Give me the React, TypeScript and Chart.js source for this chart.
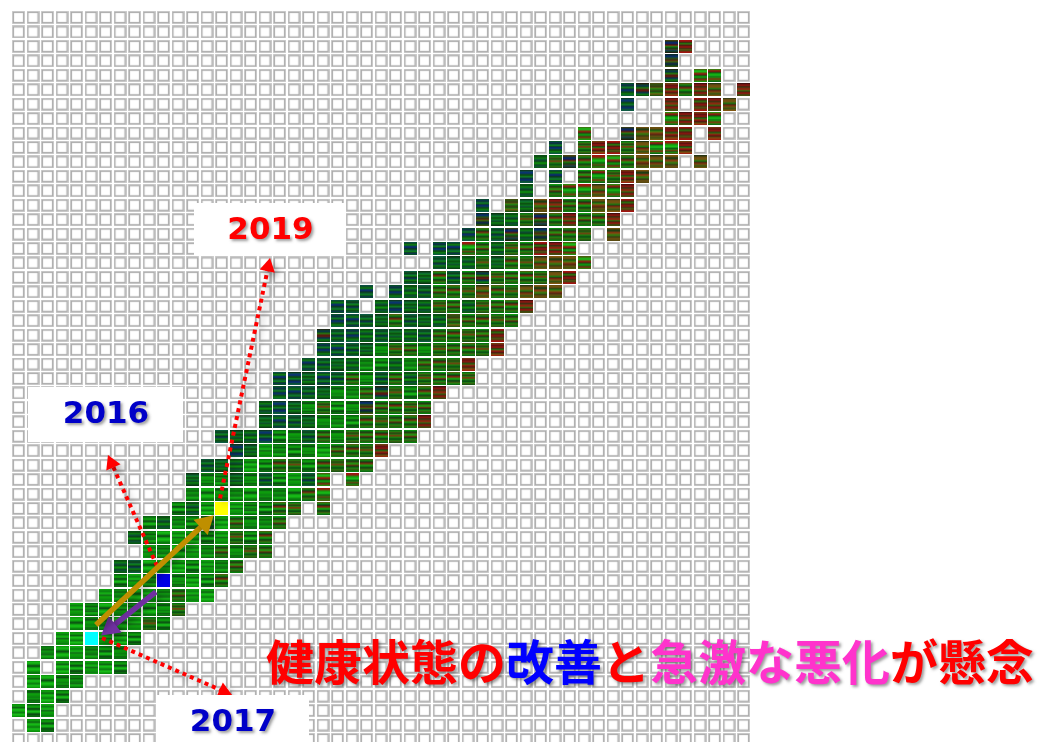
import React, { useEffect, useRef } from "react";
import { Chart, registerables } from "chart.js";

Chart.register(...registerables);

// --- Data ----------------------------------------------------------------
const GRID_SIZE = 51;
// first occupied column of each row with cells (row number -> [start column, classes]); "." = empty cell
const rowNumbers = [2, 3, 4, 5, 6, 7, 8, 9, 10, 11, 12, 13, 14, 15, 16, 17, 18, 19, 20, 21, 22, 23, 24, 25, 26, 27, 28, 29, 30, 31, 32, 33, 34, 35, 36, 37, 38, 39, 40, 41, 42, 43, 44, 45, 46, 47, 48, 49];
const rowStarts = [45, 45, 45, 42, 42, 45, 39, 37, 36, 35, 35, 32, 32, 31, 27, 29, 27, 24, 22, 22, 21, 21, 20, 18, 18, 17, 17, 14, 15, 13, 12, 12, 11, 9, 8, 9, 7, 7, 6, 4, 4, 3, 2, 1, 1, 1, 0, 1];
const rowCells = [
  "nr", "n", "n.kk", "bnormry.r", "b..r.rry", "krrk", "k..nyyrr.r", "b.mrrmykkr",
  "tmnmkkmyyy.y", "b.b.mkmry", "t.mkkykr", "b.otyrmmyyr", "nttmnmrmmr", "bmtntnmmm.y",
  "b.bbkmtmmrrk", "tttmtmmyyyk", "ttmtmnmmmmyr", "b.bttmmmymmyyy", "bt.tbttmmtmmmr",
  "bbttmtttommmm", "ntbtttttmmmmr", "bbttdmmdmmmmr", "btttddtdmmmr", "bbtbtmdtmtmmmm",
  "bbttddmnmdmr", "tbtdmddnmmmm", "tbttdddmmmmr", "tttbddtmdmmmmm", "btgdddgmmmr",
  "tttgdmmdmmmm", "tddtdtdgtk.k", "dgddgddgmk", "dtgYgddmm.m", "dtddtgmddm",
  "tdgggdgmdm", "gdggdmdmm", "ttgggdgdm", "dgdBdgdm", "gdggdmgg", "gdggdgdm",
  "gddggmd", "ggCggd", "dggddd", "g.gdggd", "ggdd", "dgd", "gdg", "gd",
];
const yearLabels = ["2019", "2016", "2017"];
const titleParts = ["健康状態の", "改善", "と", "急激な悪化", "が懸念"];
// arrow ends, in grid units [column, row]
const arrowGold = [[5.34, 42.07], [12.86, 35.03]];
const arrowPurple = [[9.48, 39.77], [6.34, 42.28]];
const arrow2019 = [[13.9, 33.3], [17.22, 17.26]];
const arrow2016 = [[9.55, 37.98], [6.42, 30.87]];
const arrow2017 = [[5.76, 42.97], [14.16, 46.67]];

// --- Styles ---------------------------------------------------------------
const PITCH_X = 14.5;
const PITCH_Y = 14.44;
const ORIGIN_X = 18.5;
const ORIGIN_Y = 17.5;
const WIDTH = 1038;
const HEIGHT = 742;

const palette: Record<string, number[]> = {
  G: [15, 168, 15], H: [10, 138, 10], D: [10, 90, 20], K: [12, 42, 20], L: [34, 208, 34], B: [10, 42, 122],
  T: [15, 90, 80], R: [160, 21, 16], O: [138, 90, 16], M: [90, 74, 16], N: [42, 15, 16],
};
const stripes: Record<string, string[]> = {
  g: ["HGGKGLGGDGLGH", "GGDGGLKGGHGDG", "HLGGDKGGLGGDH"],
  d: ["DGHKGGDGKLGHD", "HDKGGHGDGGKGD", "DHGGKDGLGDKHD"],
  t: ["TDKTGDKBDGKDT", "DKGDTKDGHKTDD", "KDTGKDHTKGDDK"],
  b: ["KTBBDKGTKBBDT", "TKGDBBKDTGKBD", "DBKTGKBBDKGDT"],
  n: ["KBBDMKRGNBKDM", "NDBKGMNRKBDGK", "MKBBNRGDKMBDN"],
  m: ["DGMKGRMGDKGMD", "MGDKRMGGKDMGD", "GDKMGGRKDGMDH"],
  k: ["RRMGGLGKGRDGM", "GRRKGGLDGMRGD", "MGLGRRKGGDRMG"],
  o: ["MDMKOGDMKGOMD", "DMOKDGMKMOGDM", "MKGDMOKDGMODM"],
  y: ["MOMKGOMRKOMDO", "OMKDROMGMKOMM", "KOMOMGKRMODMO"],
  r: ["NRRKMRRGNRRDM", "RRNGMNRRKODRR", "MRNRRKGRRNMOR"],
};
const solidCells: Record<string, string> = { Y: "#ffff00", B: "#0000e6", C: "#00ffff" };

const boxes = [
  { text: yearLabels[0], color: "#ff0000", x0: 194, y0: 203, x1: 346, y1: 256, tx: 270.5, ty: 231 },
  { text: yearLabels[1], color: "#0000c8", x0: 28, y0: 387, x1: 183, y1: 442, tx: 106, ty: 415 },
  { text: yearLabels[2], color: "#0000c8", x0: 157, y0: 695, x1: 309, y1: 742, tx: 233, ty: 723 },
];
const titleColors = ["#ff0000", "#0000ff", "#ff0000", "#ff33cc", "#ff0000"];

function makeCanvas(draw: (c: CanvasRenderingContext2D) => void) {
  const cv = document.createElement("canvas");
  cv.width = 13;
  cv.height = 13;
  draw(cv.getContext("2d") as CanvasRenderingContext2D);
  return cv;
}

const emptyCell = () =>
  makeCanvas((c) => {
    c.fillStyle = "#ffffff";
    c.fillRect(0, 0, 13, 13);
    c.strokeStyle = "#d2d2d2";
    c.lineWidth = 2.2;
    c.strokeRect(1.1, 1.1, 10.8, 10.8);
    c.strokeStyle = "#acacac";
    c.lineWidth = 1.1;
    c.strokeRect(1.3, 1.3, 10.4, 10.4);
  });
const stripeCell = (s: string) =>
  makeCanvas((c) => {
    const cols = s.split("").map((p) => palette[p]);
    cols.forEach((col, i) => {
      const prev = cols[Math.max(0, i - 1)];
      const next = cols[Math.min(cols.length - 1, i + 1)];
      const mix = col.map((v, k) => Math.round(0.22 * prev[k] + 0.56 * v + 0.22 * next[k]));
      c.fillStyle = `rgb(${mix[0]},${mix[1]},${mix[2]})`;
      c.fillRect(0, i, 13, 1);
    });
  });
const solidCell = (col: string) =>
  makeCanvas((c) => {
    c.fillStyle = col;
    c.fillRect(0, 0, 13, 13);
  });

function arrowDataset(label: string, ends: number[][], color: string, width: number, dash: number[], head: number) {
  const [a, b] = ends;
  const rot = (Math.atan2((b[0] - a[0]) * PITCH_X, -(b[1] - a[1]) * PITCH_Y) * 180) / Math.PI;
  return {
    label,
    type: "scatter" as const,
    order: 0,
    clip: false,
    showLine: true,
    data: [
      { x: a[0], y: a[1] },
      { x: b[0], y: b[1] },
    ],
    borderColor: color,
    borderWidth: width,
    borderDash: dash,
    backgroundColor: color,
    pointStyle: "triangle",
    pointRotation: [0, rot],
    pointRadius: [0, head],
    pointBackgroundColor: color,
    pointBorderColor: color,
    pointBorderWidth: 0,
    tension: 0,
  };
}

export default function App() {
  const ref = useRef<HTMLCanvasElement>(null);
  useEffect(() => {
    const occupied = new Set<string>();
    const byClass: Record<string, { x: number; y: number }[]> = {};
    rowNumbers.forEach((row, i) => {
      rowCells[i].split("").forEach((cls, k) => {
        if (cls === ".") return;
        const col = rowStarts[i] + k;
        occupied.add(col + "," + row);
        (byClass[cls] = byClass[cls] || []).push({ x: col, y: row });
      });
    });
    const empties: { x: number; y: number }[] = [];
    for (let r = 0; r < GRID_SIZE; r++) {
      for (let c = 0; c < GRID_SIZE; c++) {
        if (!occupied.has(c + "," + r)) empties.push({ x: c, y: r });
      }
    }
    const blank = emptyCell();
    const cellSets: any[] = [
      { label: "empty", data: empties, pointStyle: blank, pointRadius: 7, order: 10, clip: false },
    ];
    Object.keys(byClass).forEach((cls) => {
      const pts = byClass[cls];
      let styles: any;
      if (solidCells[cls]) {
        styles = solidCell(solidCells[cls]);
      } else {
        const variants = stripes[cls].map(stripeCell);
        styles = pts.map((p) => variants[(p.x * 2 + p.y) % variants.length]);
      }
      cellSets.push({ label: cls, data: pts, pointStyle: styles, pointRadius: 7, order: 5, clip: false });
    });

    const shadowSets = new Set(["gold", "purple", "2019", "2016", "2017"]);
    const overlay = {
      id: "overlay",
      beforeDatasetDraw(chart: any, args: any) {
        const ds = chart.data.datasets[args.index];
        if (shadowSets.has(ds.label)) {
          const c = chart.ctx;
          c.save();
          c.shadowColor = "rgba(0,0,0,0.3)";
          c.shadowBlur = 6;
          c.shadowOffsetX = 4;
          c.shadowOffsetY = 4;
        }
      },
      afterDatasetDraw(chart: any, args: any) {
        const ds = chart.data.datasets[args.index];
        if (shadowSets.has(ds.label)) chart.ctx.restore();
      },
      afterDatasetsDraw(chart: any) {
        const c = chart.ctx;
        c.save();
        boxes.forEach((b) => {
          c.fillStyle = "#ffffff";
          c.fillRect(b.x0, b.y0, b.x1 - b.x0, b.y1 - b.y0);
        });
        c.shadowColor = "rgba(60,60,60,0.5)";
        c.shadowBlur = 3;
        c.shadowOffsetX = 2;
        c.shadowOffsetY = 2;
        c.textAlign = "center";
        c.textBaseline = "middle";
        c.font = 'bold 31px "DejaVu Sans"';
        boxes.forEach((b) => {
          c.fillStyle = b.color;
          c.fillText(b.text, b.tx, b.ty);
        });
        c.textAlign = "left";
        c.textBaseline = "alphabetic";
        c.font = 'bold 48px "Noto Sans CJK JP"';
        let x = 266;
        titleParts.forEach((t, i) => {
          c.fillStyle = titleColors[i];
          c.fillText(t, x, 680);
          x += c.measureText(t).width;
        });
        c.restore();
      },
    };

    const chart = new Chart(ref.current as HTMLCanvasElement, {
      type: "scatter",
      data: {
        datasets: [
          arrowDataset("gold", arrowGold, "#bf8f00", 5.5, [], 12),
          arrowDataset("purple", arrowPurple, "#7030a0", 5.5, [], 12),
          arrowDataset("2019", arrow2019, "#ff0000", 4, [4, 4], 9),
          arrowDataset("2016", arrow2016, "#ff0000", 4, [4, 4], 9),
          arrowDataset("2017", arrow2017, "#ff0000", 4, [4, 4], 9),
          ...cellSets,
        ],
      },
      options: {
        animation: false,
        responsive: false,
        maintainAspectRatio: false,
        events: [],
        layout: { padding: 0, autoPadding: false },
        plugins: { legend: { display: false }, tooltip: { enabled: false }, title: { display: false } },
        scales: {
          x: { type: "linear", display: false, min: -ORIGIN_X / PITCH_X, max: (WIDTH - ORIGIN_X) / PITCH_X },
          y: { type: "linear", display: false, reverse: true, min: -ORIGIN_Y / PITCH_Y, max: (HEIGHT - ORIGIN_Y) / PITCH_Y },
        },
      },
      plugins: [overlay],
    } as any);
    return () => chart.destroy();
  }, []);
  return (
    <canvas
      ref={ref}
      width={WIDTH}
      height={HEIGHT}
      style={{ position: "fixed", left: 0, top: 0, width: WIDTH, height: HEIGHT, display: "block", background: "#fff" }}
    />
  );
}
